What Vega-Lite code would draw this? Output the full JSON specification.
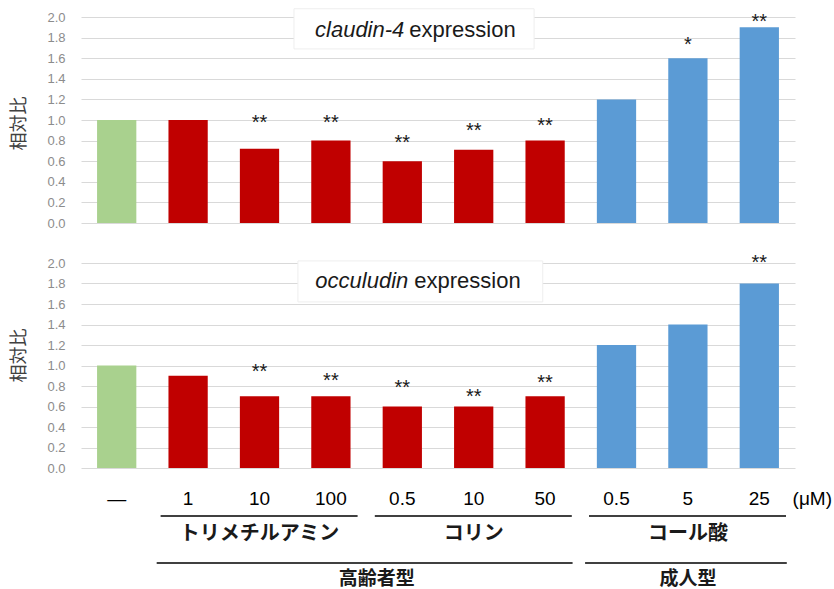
{
  "$schema": "https://vega.github.io/schema/vega-lite/v6.json",
  "padding": {"left": 10, "top": 8, "right": 2, "bottom": 0},
  "background": "white",
  "config": {"view": {"stroke": null}, "font": "Liberation Sans"},
  "bounds": "flush",
  "spacing": 40,
  "resolve": {"scale": {"x": "shared", "y": "independent"}},
  "datasets": {
    "bars": [
      {"id": "c0", "dose": "—", "grp": "control", "claudin": 1.0, "claudin_upper": 1.0, "claudin_sig": "", "occludin": 1.0, "occludin_upper": 1.0, "occludin_sig": ""},
      {"id": "c1", "dose": "1", "grp": "elderly", "claudin": 1.0, "claudin_upper": 1.0, "claudin_sig": "", "occludin": 0.9, "occludin_upper": 0.9, "occludin_sig": ""},
      {"id": "c2", "dose": "10", "grp": "elderly", "claudin": 0.72, "claudin_upper": 1.02, "claudin_sig": "**", "occludin": 0.7, "occludin_upper": 0.99, "occludin_sig": "**"},
      {"id": "c3", "dose": "100", "grp": "elderly", "claudin": 0.8, "claudin_upper": 1.02, "claudin_sig": "**", "occludin": 0.7, "occludin_upper": 0.9, "occludin_sig": "**"},
      {"id": "c4", "dose": "0.5", "grp": "elderly", "claudin": 0.6, "claudin_upper": 0.83, "claudin_sig": "**", "occludin": 0.6, "occludin_upper": 0.83, "occludin_sig": "**"},
      {"id": "c5", "dose": "10", "grp": "elderly", "claudin": 0.71, "claudin_upper": 0.94, "claudin_sig": "**", "occludin": 0.6, "occludin_upper": 0.74, "occludin_sig": "**"},
      {"id": "c6", "dose": "50", "grp": "elderly", "claudin": 0.8, "claudin_upper": 0.99, "claudin_sig": "**", "occludin": 0.7, "occludin_upper": 0.875, "occludin_sig": "**"},
      {"id": "c7", "dose": "0.5", "grp": "adult", "claudin": 1.2, "claudin_upper": 1.2, "claudin_sig": "", "occludin": 1.2, "occludin_upper": 1.2, "occludin_sig": ""},
      {"id": "c8", "dose": "5", "grp": "adult", "claudin": 1.6, "claudin_upper": 1.78, "claudin_sig": "*", "occludin": 1.4, "occludin_upper": 1.4, "occludin_sig": ""},
      {"id": "c9", "dose": "25", "grp": "adult", "claudin": 1.9, "claudin_upper": 2.0, "claudin_sig": "**", "occludin": 1.8, "occludin_upper": 2.05, "occludin_sig": "**"}
    ],
    "groups": [
      {"name": "トリメチルアミン", "tier": "drug", "from": "c1", "to": "c3", "mid": "c2"},
      {"name": "コリン", "tier": "drug", "from": "c4", "to": "c6", "mid": "c5"},
      {"name": "コール酸", "tier": "drug", "from": "c7", "to": "c9", "mid": "c8"},
      {"name": "高齢者型", "tier": "type", "from": "c1", "to": "c6", "edge": "c4"},
      {"name": "成人型", "tier": "type", "from": "c7", "to": "c9", "mid": "c8"}
    ]
  },
  "vconcat": [
    {
      "width": 714,
      "height": 206,
      "layer": [
        {
          "data": {"name": "bars"},
          "mark": {"type": "bar"},
          "encoding": {
            "x": {"field": "id", "type": "ordinal", "scale": {"domain": ["c0","c1","c2","c3","c4","c5","c6","c7","c8","c9"], "paddingInner": 0.45, "paddingOuter": 0.225}, "axis": null},
            "y": {"field": "claudin", "type": "quantitative", "scale": {"domain": [0, 2], "nice": false},
              "axis": {"title": "相対比", "values": [0,0.2,0.4,0.6,0.8,1.0,1.2,1.4,1.6,1.8,2.0], "tickCount": 11, "labelOverlap": false, "format": ".1f", "grid": true, "gridColor": "#d9d9d9", "gridWidth": 1, "domain": false, "ticks": false, "labelPadding": 16, "labelFont": "Liberation Sans", "labelFontSize": 13, "labelColor": "#8c8c8c", "titleFont": "Noto Sans CJK JP", "titleFontSize": 18, "titleFontWeight": "normal", "titleColor": "#404040", "titlePadding": 18, "titleY": 106}},
            "color": {"field": "grp", "type": "nominal", "scale": {"domain": ["control", "elderly", "adult"], "range": ["#a9d18e", "#c00000", "#5b9bd5"]}, "legend": null}
          }
        },
        {
          "data": {"name": "bars"},
          "transform": [{"filter": "datum.claudin_sig != ''"}],
          "mark": {"type": "text", "font": "Liberation Sans", "fontSize": 20, "baseline": "alphabetic", "dy": 11, "color": "#1a1a1a"},
          "encoding": {
            "x": {"field": "id", "type": "ordinal"},
            "y": {"field": "claudin_upper", "type": "quantitative"},
            "text": {"field": "claudin_sig"}
          }
        },
        {
          "data": {"values": [{"gene": "claudin-4", "rest": "expression"}]},
          "layer": [
            {
              "mark": {"type": "rect", "fill": "white", "stroke": "#eeeeee", "strokeWidth": 1},
              "encoding": {
                "x": {"datum": "c3", "type": "ordinal", "bandPosition": -0.44},
                "x2": {"datum": "c6", "bandPosition": 0.22},
                "y": {"datum": 2.08, "type": "quantitative"},
                "y2": {"datum": 1.69}
              }
            },
            {
              "mark": {"type": "text", "font": "Liberation Sans", "fontSize": 22, "fontStyle": "italic", "align": "right", "baseline": "middle", "dx": 2, "color": "#1a1a1a"},
              "encoding": {
                "x": {"datum": "c4", "type": "ordinal"},
                "y": {"datum": 1.87, "type": "quantitative"},
                "text": {"field": "gene"}
              }
            },
            {
              "mark": {"type": "text", "font": "Liberation Sans", "fontSize": 22, "align": "left", "baseline": "middle", "dx": 7, "color": "#1a1a1a"},
              "encoding": {
                "x": {"datum": "c4", "type": "ordinal"},
                "y": {"datum": 1.87, "type": "quantitative"},
                "text": {"field": "rest"}
              }
            }
          ]
        }
      ]
    },
    {
      "width": 714,
      "height": 205,
      "layer": [
        {
          "data": {"name": "bars"},
          "mark": {"type": "bar"},
          "encoding": {
            "x": {"field": "id", "type": "ordinal", "scale": {"domain": ["c0","c1","c2","c3","c4","c5","c6","c7","c8","c9"], "paddingInner": 0.45, "paddingOuter": 0.225}, "axis": null},
            "y": {"field": "occludin", "type": "quantitative", "scale": {"domain": [0, 2], "nice": false},
              "axis": {"title": "相対比", "values": [0,0.2,0.4,0.6,0.8,1.0,1.2,1.4,1.6,1.8,2.0], "tickCount": 11, "labelOverlap": false, "format": ".1f", "grid": true, "gridColor": "#d9d9d9", "gridWidth": 1, "domain": false, "ticks": false, "labelPadding": 16, "labelFont": "Liberation Sans", "labelFontSize": 13, "labelColor": "#8c8c8c", "titleFont": "Noto Sans CJK JP", "titleFontSize": 18, "titleFontWeight": "normal", "titleColor": "#404040", "titlePadding": 18, "titleY": 92}},
            "color": {"field": "grp", "type": "nominal", "scale": {"domain": ["control", "elderly", "adult"], "range": ["#a9d18e", "#c00000", "#5b9bd5"]}, "legend": null}
          }
        },
        {
          "data": {"name": "bars"},
          "transform": [{"filter": "datum.occludin_sig != ''"}],
          "mark": {"type": "text", "font": "Liberation Sans", "fontSize": 20, "baseline": "alphabetic", "dy": 11, "color": "#1a1a1a"},
          "encoding": {
            "x": {"field": "id", "type": "ordinal"},
            "y": {"field": "occludin_upper", "type": "quantitative"},
            "text": {"field": "occludin_sig"}
          }
        },
        {
          "data": {"values": [{"gene": "occuludin", "rest": "expression"}]},
          "layer": [
            {
              "mark": {"type": "rect", "fill": "white", "stroke": "#eeeeee", "strokeWidth": 1},
              "encoding": {
                "x": {"datum": "c3", "type": "ordinal", "bandPosition": -0.34},
                "x2": {"datum": "c6", "bandPosition": 0.44},
                "y": {"datum": 2.02, "type": "quantitative"},
                "y2": {"datum": 1.62}
              }
            },
            {
              "mark": {"type": "text", "font": "Liberation Sans", "fontSize": 22, "fontStyle": "italic", "align": "right", "baseline": "middle", "dx": 6, "color": "#1a1a1a"},
              "encoding": {
                "x": {"datum": "c4", "type": "ordinal"},
                "y": {"datum": 1.82, "type": "quantitative"},
                "text": {"field": "gene"}
              }
            },
            {
              "mark": {"type": "text", "font": "Liberation Sans", "fontSize": 22, "align": "left", "baseline": "middle", "dx": 12, "color": "#1a1a1a"},
              "encoding": {
                "x": {"datum": "c4", "type": "ordinal"},
                "y": {"datum": 1.82, "type": "quantitative"},
                "text": {"field": "rest"}
              }
            }
          ]
        }
      ]
    },
    {
      "width": 714,
      "height": 63,
      "layer": [
        {
          "data": {"name": "bars"},
          "mark": {"type": "text", "font": "Liberation Sans", "fontSize": 19, "baseline": "middle", "dy": -17, "color": "#000000"},
          "encoding": {
            "x": {"field": "id", "type": "ordinal", "scale": {"domain": ["c0","c1","c2","c3","c4","c5","c6","c7","c8","c9"], "paddingInner": 0.45, "paddingOuter": 0.225}, "axis": null},
            "y": {"datum": "drug", "type": "nominal", "scale": {"type": "point", "domain": ["drug", "type"], "padding": 0.17}, "axis": null},
            "text": {"field": "dose"}
          }
        },
        {
          "data": {"values": [{"unit": "(μM)"}]},
          "mark": {"type": "text", "font": "Liberation Sans", "fontSize": 19, "baseline": "middle", "dy": -17, "dx": 53, "color": "#000000"},
          "encoding": {
            "x": {"datum": "c9", "type": "ordinal"},
            "y": {"datum": "drug", "type": "nominal"},
            "text": {"field": "unit"}
          }
        },
        {
          "data": {"name": "groups"},
          "transform": [{"filter": "datum.tier == 'drug'"}],
          "mark": {"type": "rule", "stroke": "#404040", "strokeWidth": 2},
          "encoding": {
            "x": {"field": "from", "type": "ordinal", "bandPosition": -0.2},
            "x2": {"field": "to", "bandPosition": 1.18},
            "y": {"field": "tier", "type": "nominal"}
          }
        },
        {
          "data": {"name": "groups"},
          "transform": [{"filter": "datum.tier == 'type'"}],
          "mark": {"type": "rule", "stroke": "#404040", "strokeWidth": 2},
          "encoding": {
            "x": {"field": "from", "type": "ordinal", "bandPosition": -0.3},
            "x2": {"field": "to", "bandPosition": 1.2},
            "y": {"field": "tier", "type": "nominal"}
          }
        },
        {
          "data": {"name": "groups"},
          "transform": [{"filter": "datum.tier == 'drug'"}],
          "mark": {"type": "text", "font": "Noto Sans CJK JP", "fontSize": 20, "fontWeight": "bold", "baseline": "middle", "dy": 18, "color": "#1a1a1a"},
          "encoding": {
            "x": {"field": "mid", "type": "ordinal"},
            "y": {"field": "tier", "type": "nominal"},
            "text": {"field": "name"}
          }
        },
        {
          "data": {"name": "groups"},
          "transform": [{"filter": "datum.tier == 'type' && isValid(datum.mid)"}],
          "mark": {"type": "text", "font": "Noto Sans CJK JP", "fontSize": 19, "fontWeight": "bold", "baseline": "middle", "dy": 16, "color": "#1a1a1a"},
          "encoding": {
            "x": {"field": "mid", "type": "ordinal"},
            "y": {"field": "tier", "type": "nominal"},
            "text": {"field": "name"}
          }
        },
        {
          "data": {"name": "groups"},
          "transform": [{"filter": "isValid(datum.edge)"}],
          "mark": {"type": "text", "font": "Noto Sans CJK JP", "fontSize": 19, "fontWeight": "bold", "baseline": "middle", "dy": 16, "color": "#1a1a1a"},
          "encoding": {
            "x": {"field": "edge", "type": "ordinal", "bandPosition": -0.15},
            "y": {"field": "tier", "type": "nominal"},
            "text": {"field": "name"}
          }
        }
      ]
    }
  ]
}
